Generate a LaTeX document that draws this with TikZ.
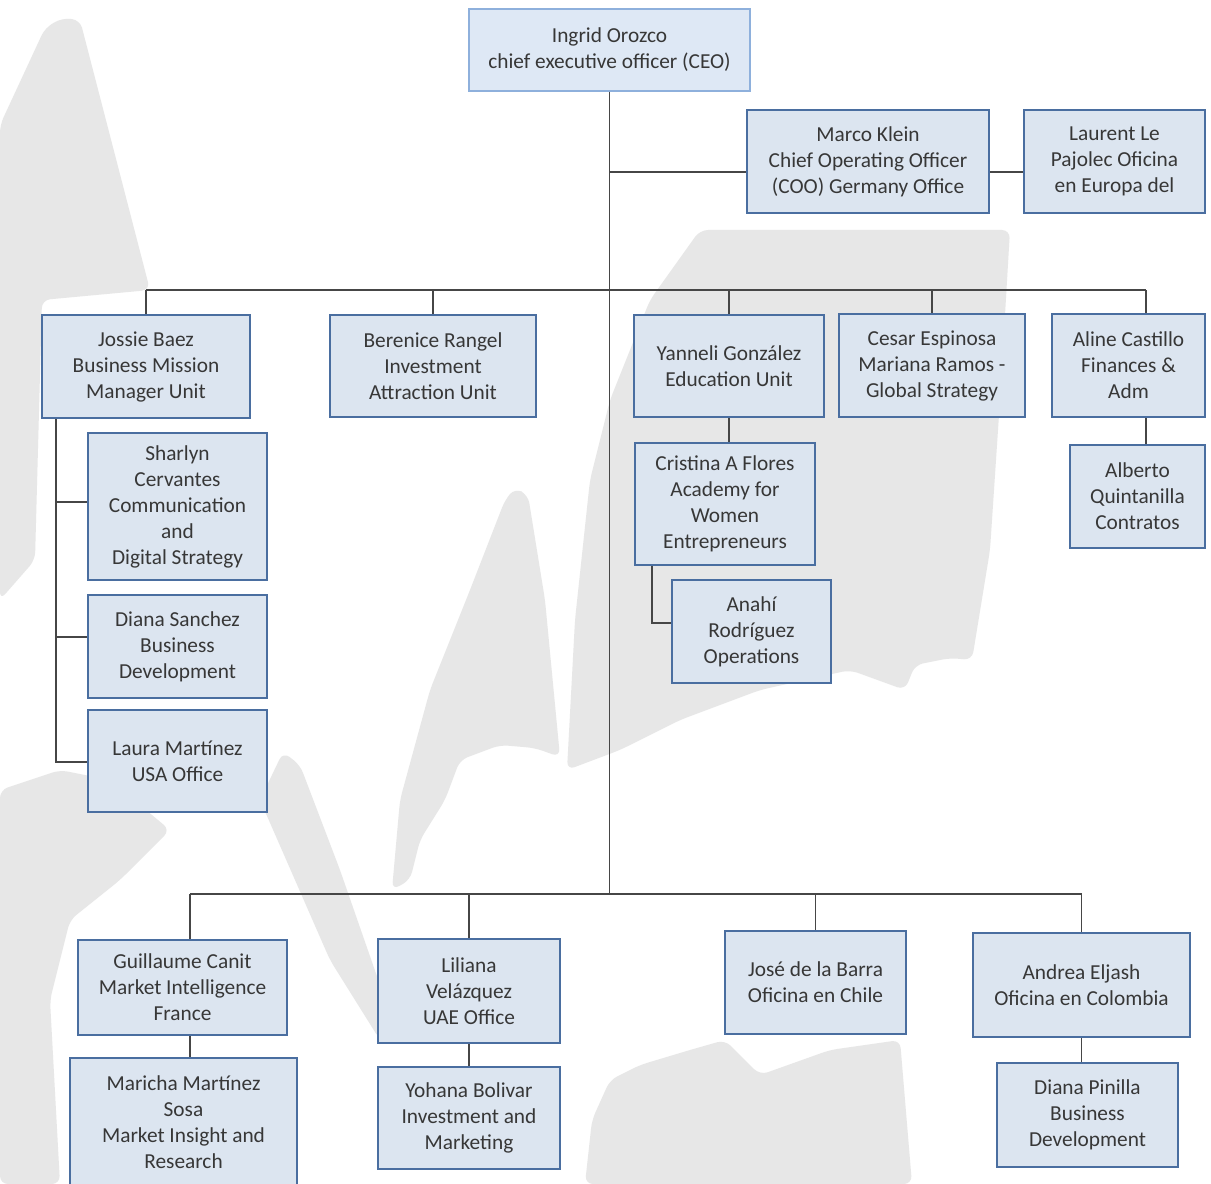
\documentclass[tikz,border=0pt]{standalone}
\usepackage{fontspec}
\setmainfont{Carlito}
\definecolor{boxline}{RGB}{74,110,160}
\definecolor{boxfill}{RGB}{220,229,240}
\definecolor{ceoline}{RGB}{142,176,220}
\definecolor{ceofill}{RGB}{222,232,245}
\definecolor{txt}{RGB}{55,55,55}
\definecolor{lin}{RGB}{70,70,70}
\definecolor{wmgrey}{RGB}{231,231,231}
\newcommand\obox[7][ubox]{%
  \pgfmathsetmacro\bw{(#5-#3)*0.75}%
  \pgfmathsetmacro\bh{(#6-#4)*0.75}%
  \node[#1, minimum width=\bw pt, minimum height=\bh pt] (#2) at ({(#3+#5)/2},{(#4+#6)/2}) {#7};}
\begin{document}
\begin{tikzpicture}[x=0.75pt,y=-0.75pt,
  ubox/.style={draw=boxline, line width=2.2pt, fill=boxfill, align=center, inner sep=2pt, text=txt, font=\fontsize{16}{19.5}\selectfont},
  ceobox/.style={ubox, draw=ceoline, line width=1pt, fill=ceofill},
  conn/.style={draw=lin, line width=1pt},
  wm/.style={fill=wmgrey, draw=none, rounded corners=6pt}]
\useasboundingbox (0,0) rectangle (1211,1184);
\fill[white] (0,0) rectangle (1211,1184);
% watermark
\fill[wm] (0,125) -- (45,28) -- (62,18) -- (80,20) -- (150,290) -- (42,300) -- (35,560) -- (0,600) -- cycle;
\fill[wm] (392,890) -- (400,800) -- (430,690) -- (470,590) -- (505,500) -- (515,488) -- (528,495) -- (545,600) -- (560,757) -- (535,748) -- (500,745) -- (460,760) -- (445,800) -- (420,840) -- (410,880) -- cycle;
\fill[wm] (567,770) -- (575,620) -- (590,480) -- (610,400) -- (650,300) -- (700,230) -- (1010,230) -- (1000,400) -- (990,550) -- (972,660) -- (950,658) -- (915,665) -- (905,690) -- (850,670) -- (760,690) -- (680,720) -- (620,750) -- cycle;
\fill[wm] (0,790) -- (60,770) -- (110,780) -- (170,830) -- (120,880) -- (70,920) -- (50,1000) -- (60,1184) -- (0,1184) -- cycle;
\fill[wm] (283,752) -- (300,765) -- (340,870) -- (380,985) -- (380,1040) -- (330,960) -- (260,800) -- cycle;
\fill[wm] (585,1184) -- (592,1120) -- (610,1080) -- (640,1065) -- (690,1050) -- (725,1040) -- (760,1075) -- (830,1050) -- (900,1040) -- (912,1184) -- cycle;
% boxes
\obox[ceobox]{ceo}{469}{9}{750}{91}{Ingrid Orozco\\chief executive officer (CEO)}
\obox{coo}{747}{110}{989}{213}{Marco Klein\\Chief Operating Officer\\(COO) Germany Office}
\obox{laurent}{1024}{110}{1205}{213}{Laurent Le\\Pajolec Oficina\\en Europa del}
\obox{jossie}{42}{315}{250}{418}{Jossie Baez\\Business Mission\\Manager Unit}
\obox{berenice}{330}{315}{536}{417}{Berenice Rangel\\Investment\\Attraction Unit}
\obox{yanneli}{634}{315}{824}{417}{Yanneli González\\Education Unit}
\obox{cesar}{839}{314}{1025}{417}{Cesar Espinosa\\Mariana Ramos -\\Global Strategy}
\obox{aline}{1052}{314}{1205}{417}{Aline Castillo\\Finances \&\\Adm}
\obox{alberto}{1070}{445}{1205}{548}{Alberto\\Quintanilla\\Contratos}
\obox{sharlyn}{88}{433}{267}{580}{Sharlyn\\Cervantes\\Communication\\and\\Digital Strategy}
\obox{dianas}{88}{595}{267}{698}{Diana Sanchez\\Business\\Development}
\obox{laura}{88}{710}{267}{812}{Laura Martínez\\USA Office}
\obox{cristina}{635}{443}{815}{565}{Cristina A Flores\\Academy for\\Women\\Entrepreneurs}
\obox{anahi}{672}{580}{831}{683}{Anahí\\Rodríguez\\Operations}
\obox{guillaume}{78}{940}{287}{1035}{Guillaume Canit\\Market Intelligence\\France}
\obox{maricha}{70}{1058}{297}{1186}{Maricha Martínez\\Sosa\\Market Insight and\\Research}
\obox{liliana}{378}{939}{560}{1043}{Liliana\\Velázquez\\UAE Office}
\obox{yohana}{378}{1067}{560}{1169}{Yohana Bolivar\\Investment and\\Marketing}
\obox{jose}{725}{931}{906}{1034}{José de la Barra\\Oficina en Chile}
\obox{andrea}{973}{933}{1190}{1037}{Andrea Eljash\\Oficina en Colombia}
\obox{dianap}{997}{1063}{1178}{1167}{Diana Pinilla\\Business\\Development}
% helper coordinates
\coordinate (yCOO) at (0,172);
\coordinate (yTop) at (0,290);
\coordinate (yBot) at (0,894);
\coordinate (xAl) at (1146,0);
\coordinate (xJ) at (56,0);
\coordinate (xG) at (190,0);
\coordinate (xC) at (652,0);
\coordinate (ySh) at (0,502);
\coordinate (yDs) at (0,637);
\coordinate (yLa) at (0,762);
\coordinate (yAn) at (0,623);
% connectors
\draw[conn] (ceo.south) -- (ceo.south |- yBot);
\draw[conn] (ceo.south |- yCOO) -- (coo.west |- yCOO);
\draw[conn] (coo.east |- yCOO) -- (laurent.west |- yCOO);
\draw[conn] (jossie.north |- yTop) -- (xAl |- yTop);
\foreach \n in {jossie,berenice,yanneli,cesar} \draw[conn] (\n.north |- yTop) -- (\n.north);
\draw[conn] (xAl |- yTop) -- (xAl |- aline.north);
\draw[conn] (xAl |- aline.south) -- (xAl |- alberto.north);
\draw[conn] (xJ |- jossie.south) -- (xJ |- yLa) -- (laura.west |- yLa);
\draw[conn] (xJ |- ySh) -- (sharlyn.west |- ySh);
\draw[conn] (xJ |- yDs) -- (dianas.west |- yDs);
\draw[conn] (yanneli.south) -- (yanneli.south |- cristina.north);
\draw[conn] (xC |- cristina.south) -- (xC |- yAn) -- (anahi.west |- yAn);
\draw[conn] (xG |- yBot) -- (andrea.north |- yBot);
\draw[conn] (xG |- yBot) -- (xG |- guillaume.north);
\draw[conn] (xG |- guillaume.south) -- (xG |- maricha.north);
\draw[conn] (liliana.north |- yBot) -- (liliana.north);
\draw[conn] (liliana.south) -- (yohana.north);
\draw[conn] (jose.north |- yBot) -- (jose.north);
\draw[conn] (andrea.north |- yBot) -- (andrea.north);
\draw[conn] (andrea.south) -- (andrea.south |- dianap.north);
\end{tikzpicture}
\end{document}
